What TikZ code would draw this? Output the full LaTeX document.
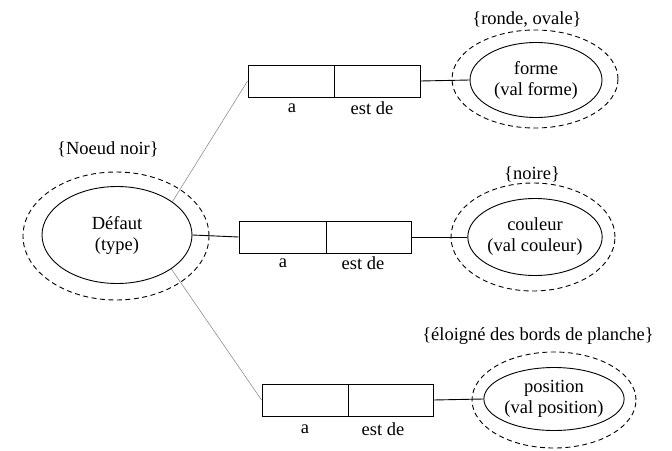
\documentclass[tikz,border=0pt]{standalone}
\usepackage{fontspec}
\setmainfont{Liberation Serif}
\usetikzlibrary{shapes.geometric}
\begin{document}
\begin{tikzpicture}[x=1pt,y=-1pt,
  txt/.style={font=\fontsize{18.5}{21}\selectfont, inner sep=0pt, align=center},
  inner/.style={ellipse, draw, line width=0.9pt, inner sep=0pt, txt},
  outer/.style={ellipse, draw, dash pattern=on 5pt off 3.5pt, line width=0.9pt, inner sep=0pt},
  cell/.style={draw, line width=0.9pt, minimum height=32pt, inner sep=0pt},
  thin/.style={draw=gray, line width=0.5pt},
  link/.style={draw, line width=0.9pt}]
\useasboundingbox (0,0) rectangle (672,450);

% central concept
\node[outer, minimum width=186pt, minimum height=128pt] (defo) at (116,236) {};
\node[inner, minimum width=150pt, minimum height=97pt] (def) at (117,235) {Défaut\\(type)};
\node[txt] (defl) at (108,149) {\{Noeud noir\}};

% top relation
\node[cell, minimum width=86pt] (a1) at (291,81) {};
\node[cell, minimum width=86pt] (b1) at (377,81) {};
\node[txt] (a1l) at (292,108) {a};
\node[txt] (b1l) at (372,108) {est de};
\node[outer, minimum width=166pt, minimum height=98pt] (fo) at (535,79) {};
\node[inner, minimum width=132pt, minimum height=75pt] (f) at (536,80) {forme\\(val forme)};
\node[txt] (fl) at (527,20) {\{ronde, ovale\}};

% middle relation
\node[cell, minimum width=87pt] (a2) at (282.5,237) {};
\node[cell, minimum width=85pt] (b2) at (368.5,237) {};
\node[txt] (a2l) at (283,263) {a};
\node[txt] (b2l) at (363,263) {est de};
\node[outer, minimum width=164pt, minimum height=108pt] (co) at (533,237) {};
\node[inner, minimum width=132pt, minimum height=77pt] (c) at (535,237) {couleur\\(val couleur)};
\node[txt] (cl) at (532,174) {\{noire\}};

% bottom relation
\node[cell, minimum width=86pt] (a3) at (305,400) {};
\node[cell, minimum width=85pt] (b3) at (390.5,400) {};
\node[txt] (a3l) at (305,429) {a};
\node[txt] (b3l) at (383,429) {est de};
\node[outer, minimum width=164pt, minimum height=96pt] (po) at (554,400) {};
\node[inner, minimum width=132pt, minimum height=63pt] (p) at (554,399) {position\\(val position)};
\node[txt] (pl) at (538,336) {\{éloigné des bords de planche\}};

% connectors
\path[thin] (def.31) -- (a1.west);
\path[thin] (def.-32) -- (a3.west);
\path[link] (def.east) -- (a2.west);
\path[link] (b1.east) -- (f.west);
\path[link] (b2.east) -- (c.west);
\path[link] (b3.east) -- (p.west);
\end{tikzpicture}
\end{document}
